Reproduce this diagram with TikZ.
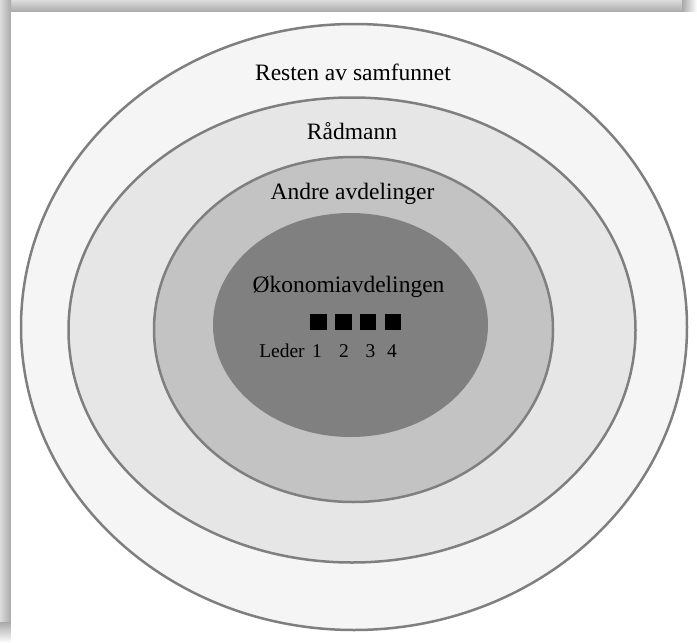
\documentclass[tikz,border=0pt]{standalone}
\usepackage{fontspec}
\setmainfont{Liberation Serif}
\definecolor{ringline}{HTML}{7F7F7F}
\definecolor{ringA}{HTML}{F5F5F5}
\definecolor{ringB}{HTML}{E6E6E6}
\definecolor{ringC}{HTML}{C3C3C3}
\definecolor{ringD}{HTML}{808080}
\definecolor{shadeLight}{HTML}{DCDCDC}
\definecolor{shadeDark}{HTML}{A9A9A9}
\begin{document}
\begin{tikzpicture}[x=1pt,y=-1pt,
  ring/.style={draw=ringline,line width=2.5pt},
  biglabel/.style={anchor=base,inner sep=0pt,font=\fontsize{23.5}{26}\selectfont},
  smalllabel/.style={anchor=base,inner sep=0pt,font=\fontsize{19.5}{22}\selectfont},
  member/.style={fill=black,draw=none,minimum size=16.5pt,inner sep=0pt}]
\useasboundingbox (0,0) rectangle (697,643);
\fill[white] (0,0) rectangle (697,643);
% frame shadow
\shade[top color=shadeLight,bottom color=shadeDark] (0,0) rectangle (690,12);
\shade[left color=shadeDark,right color=white] (682,0) rectangle (697,12);
\shade[left color=shadeLight,right color=shadeDark] (0,0) rectangle (11,630);
\shade[top color=shadeDark,bottom color=white] (0,622) rectangle (11,643);
\fill[white] (11,12) rectangle (697,643);
% rings
\filldraw[ring,fill=ringA] (354,327) ellipse [x radius=333,y radius=303];
\filldraw[ring,fill=ringB] (352,330) ellipse [x radius=283.5,y radius=232.5];
\filldraw[ring,fill=ringC] (353.5,329.5) ellipse [x radius=199.5,y radius=172.5];
\fill[ringD] (350.5,325) ellipse [x radius=137.5,y radius=112];
% labels
\node[biglabel] (resten) at (353,80) {Resten av samfunnet};
\node[biglabel] (radmann) at (352,139) {Rådmann};
\node[biglabel] (andre) at (352.5,199) {Andre avdelinger};
\node[biglabel] (okonomi) at (348.5,292) {Økonomiavdelingen};
% members
\node[member] (sq1) at (318.5,322) {};
\node[member] (sq2) at (343.5,322) {};
\node[member] (sq3) at (368,322) {};
\node[member] (sq4) at (393,322) {};
\node[smalllabel] (leder) at (282,357) {Leder};
\node[smalllabel] (n1) at (317,357) {1};
\node[smalllabel] (n2) at (344,357) {2};
\node[smalllabel] (n3) at (370.5,357) {3};
\node[smalllabel] (n4) at (392,357) {4};
\end{tikzpicture}
\end{document}
